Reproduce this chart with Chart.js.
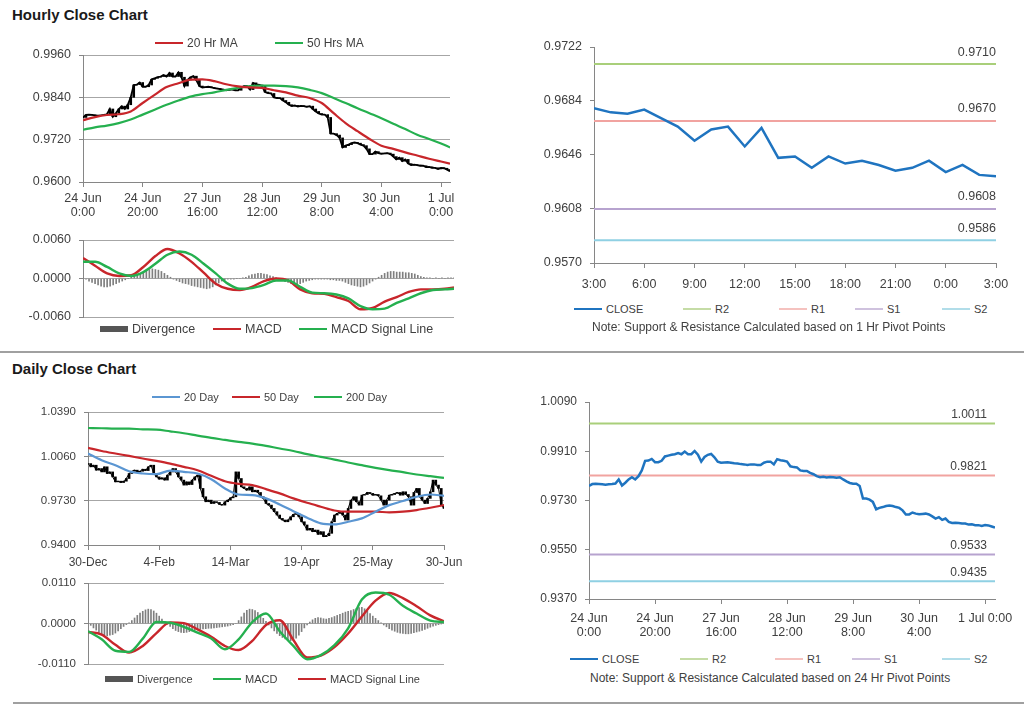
<!DOCTYPE html>
<html><head><meta charset="utf-8">
<script src="https://cdn.jsdelivr.net/npm/chart.js@4.4.1/dist/chart.umd.min.js"></script>
<style>
html,body{margin:0;padding:0;background:#fff;}
body{width:1024px;height:706px;position:relative;overflow:hidden;font-family:"Liberation Sans",Arial,sans-serif;color:#404040;}
canvas{position:absolute;}
.title{position:absolute;left:12px;font-weight:bold;font-size:15px;line-height:18px;color:#1a1a1a;}
.rule{position:absolute;height:2px;background:#a0a0a0;}
.lg{position:absolute;white-space:nowrap;line-height:14px;transform:translateY(-50%);display:flex;align-items:center;z-index:2;}
.sw{display:inline-block;width:28px;margin-right:4px;}
.note{position:absolute;white-space:nowrap;transform:translateY(-50%);font-size:12px;line-height:14px;z-index:2;}
</style></head><body>
<div class="title" style="top:6px">Hourly Close Chart</div>
<div class="title" style="top:360px">Daily Close Chart</div>
<div class="rule" style="left:0;top:351px;width:1024px"></div>
<div class="rule" style="left:13px;top:702px;width:1011px"></div>

<canvas id="cA" width="470" height="200" style="left:0;top:30px"></canvas>
<canvas id="cB" width="470" height="97" style="left:0;top:228px"></canvas>
<canvas id="cC" width="500" height="280" style="left:512px;top:20px"></canvas>
<canvas id="cD" width="475" height="190" style="left:0;top:385px"></canvas>
<canvas id="cE" width="460" height="100" style="left:0;top:572px"></canvas>
<canvas id="cF" width="500" height="270" style="left:512px;top:380px"></canvas>

<!-- legends -->
<div class="lg" style="left:155px;top:43px;font-size:12px"><span class="sw" style="height:2px;background:#c8262b"></span>20 Hr MA</div>
<div class="lg" style="left:275px;top:43px;font-size:12px"><span class="sw" style="height:2px;background:#25b04f"></span>50 Hrs MA</div>

<div class="lg" style="left:100px;top:329px;font-size:12.5px"><span class="sw" style="height:6px;background:#555"></span>Divergence</div>
<div class="lg" style="left:213px;top:329px;font-size:12.5px"><span class="sw" style="height:2px;background:#c8262b"></span>MACD</div>
<div class="lg" style="left:299px;top:329px;font-size:12.5px"><span class="sw" style="height:2px;background:#25b04f"></span>MACD Signal Line</div>

<div class="lg" style="left:574px;top:309px;font-size:11px"><span class="sw" style="height:2px;background:#1f74c0"></span>CLOSE</div>
<div class="lg" style="left:683px;top:309px;font-size:11px"><span class="sw" style="height:2px;background:#c5dca6"></span>R2</div>
<div class="lg" style="left:779px;top:309px;font-size:11px"><span class="sw" style="height:2px;background:#f5c2bf"></span>R1</div>
<div class="lg" style="left:855px;top:309px;font-size:11px"><span class="sw" style="height:2px;background:#cfc2de"></span>S1</div>
<div class="lg" style="left:942px;top:309px;font-size:11px"><span class="sw" style="height:2px;background:#b1dde9"></span>S2</div>
<div class="note" style="left:592px;top:327px">Note: Support &amp; Resistance Calculated based on 1 Hr Pivot Points</div>

<div class="lg" style="left:152px;top:397px;font-size:11px"><span class="sw" style="height:2px;background:#5b96d2"></span>20 Day</div>
<div class="lg" style="left:232px;top:397px;font-size:11px"><span class="sw" style="height:2px;background:#c8262b"></span>50 Day</div>
<div class="lg" style="left:314px;top:397px;font-size:11px"><span class="sw" style="height:2px;background:#25b04f"></span>200 Day</div>

<div class="lg" style="left:105px;top:679px;font-size:11px"><span class="sw" style="height:6px;background:#555"></span>Divergence</div>
<div class="lg" style="left:213px;top:679px;font-size:11px"><span class="sw" style="height:2px;background:#25b04f"></span>MACD</div>
<div class="lg" style="left:298px;top:679px;font-size:11px"><span class="sw" style="height:2px;background:#c8262b"></span>MACD Signal Line</div>

<div class="lg" style="left:570px;top:659px;font-size:11px"><span class="sw" style="height:2px;background:#1f74c0"></span>CLOSE</div>
<div class="lg" style="left:680px;top:659px;font-size:11px"><span class="sw" style="height:2px;background:#c5dca6"></span>R2</div>
<div class="lg" style="left:775px;top:659px;font-size:11px"><span class="sw" style="height:2px;background:#f5c2bf"></span>R1</div>
<div class="lg" style="left:852px;top:659px;font-size:11px"><span class="sw" style="height:2px;background:#cfc2de"></span>S1</div>
<div class="lg" style="left:942px;top:659px;font-size:11px"><span class="sw" style="height:2px;background:#b1dde9"></span>S2</div>
<div class="note" style="left:590px;top:678px">Note: Support &amp; Resistance Calculated based on 24 Hr Pivot Points</div>

<script>
// ---------------- DATA ----------------
// Hourly closes, 24 Jun 0:00 .. 1 Jul 3:00 (124 trading hours)
const hourlyClose = [
0.9783,0.9790,0.9791,0.9790,0.9789,0.9788,0.9789,0.9790,0.9792,0.9807,
0.9785,0.9795,0.9807,0.9815,0.9807,0.9819,0.9840,0.9875,0.9876,0.9882,
0.9870,0.9870,0.9875,0.9891,0.9894,0.9897,0.9899,0.9903,0.9899,0.9909,
0.9899,0.9899,0.9911,0.9897,0.9872,0.9889,0.9897,0.9900,0.9888,0.9872,
0.9868,0.9869,0.9870,0.9868,0.9866,0.9865,0.9863,0.9862,0.9860,0.9862,
0.9862,0.9860,0.9860,0.9868,0.9872,0.9872,0.9862,0.9881,0.9877,0.9875,
0.9872,0.9855,0.9852,0.9851,0.9840,0.9838,0.9838,0.9831,0.9826,0.9819,
0.9815,0.9817,0.9814,0.9816,0.9815,0.9813,0.9815,0.9807,0.9800,0.9794,
0.9791,0.9791,0.9783,0.9737,0.9737,0.9733,0.9725,0.9698,0.9703,0.9706,
0.9710,0.9712,0.9710,0.9706,0.9703,0.9694,0.9679,0.9679,0.9686,0.9682,
0.9680,0.9681,0.9682,0.9679,0.9672,0.9664,0.9669,0.9659,0.9664,0.9652,
0.9648,0.9649,0.9648,0.9646,0.9646,0.9642,0.9643,0.9640,0.9640,0.9637,
0.9640,0.9639,0.9635,0.9631];
const hourlyTickLabels = ['24 Jun 0:00','24 Jun 20:00','27 Jun 16:00','28 Jun 12:00','29 Jun 8:00','30 Jun 4:00','1 Jul 0:00'];
const hourlyTickEvery = 20;
// moving averages & MACD read every 4 hours
const sampleHours = [0,4,8,12,16,20,24,28,32,36,40,44,48,52,56,60,64,68,72,76,80,84,88,92,96,100,104,108,112,116,120,123];
const ma20Hr = [0.9775,0.9784,0.9790,0.9792,0.9800,0.9824,0.9847,0.9869,0.9880,0.9890,0.9891,0.9886,0.9877,0.9871,0.9868,0.9867,0.9860,0.9854,0.9845,0.9838,0.9824,0.9795,0.9767,0.9744,0.9722,0.9703,0.9694,0.9684,0.9675,0.9666,0.9658,0.9652];
const ma50Hr = [0.9748,0.9755,0.9760,0.9767,0.9777,0.9791,0.9805,0.9819,0.9831,0.9842,0.9849,0.9854,0.9861,0.9867,0.9872,0.9873,0.9873,0.9872,0.9868,0.9861,0.9852,0.9838,0.9824,0.9809,0.9795,0.9781,0.9765,0.9750,0.9734,0.9722,0.9709,0.9698];
const macdHr = [0.0032,0.0020,0.0008,0.0004,0.0005,0.0018,0.0035,0.0046,0.0039,0.0026,0.0009,-0.0008,-0.0016,-0.0018,-0.0013,-0.0004,0.0000,-0.0003,-0.0017,-0.0023,-0.0024,-0.0029,-0.0035,-0.0048,-0.0046,-0.0036,-0.0029,-0.0021,-0.0017,-0.0017,-0.0016,-0.0014];
const signalHr = [0.0026,0.0026,0.0018,0.0008,0.0004,0.0010,0.0023,0.0037,0.0042,0.0037,0.0023,0.0008,-0.0008,-0.0016,-0.0015,-0.0010,-0.0003,-0.0003,-0.0013,-0.0022,-0.0023,-0.0025,-0.0031,-0.0043,-0.0048,-0.0047,-0.0038,-0.0031,-0.0023,-0.0018,-0.0017,-0.0016];
const divergenceHr = [
0.0002,-0.0001,-0.0004,-0.0006,-0.0008,-0.0010,-0.0012,-0.0013,-0.0013,-0.0012,
-0.0010,-0.0008,-0.0006,-0.0004,-0.0002,0.0000,0.0002,0.0004,0.0006,0.0008,
0.0010,0.0012,0.0014,0.0015,0.0014,0.0013,0.0011,0.0008,0.0005,0.0002,
-0.0001,-0.0003,-0.0005,-0.0007,-0.0008,-0.0009,-0.0011,-0.0012,-0.0013,-0.0014,
-0.0015,-0.0016,-0.0015,-0.0013,-0.0010,-0.0007,-0.0004,-0.0002,-0.0001,-0.0001,
-0.0001,0.0000,0.0000,0.0001,0.0002,0.0004,0.0006,0.0007,0.0008,0.0008,
0.0007,0.0006,0.0004,0.0003,0.0001,-0.0001,-0.0003,-0.0005,-0.0006,-0.0008,
-0.0009,-0.0010,-0.0008,-0.0006,-0.0004,-0.0003,-0.0002,-0.0001,-0.0001,-0.0001,
-0.0001,-0.0001,-0.0002,-0.0002,-0.0003,-0.0003,-0.0004,-0.0006,-0.0008,-0.0010,
-0.0011,-0.0012,-0.0013,-0.0012,-0.0010,-0.0007,-0.0004,-0.0001,0.0002,0.0005,
0.0008,0.0010,0.0011,0.0011,0.0010,0.0010,0.0010,0.0009,0.0009,0.0008,
0.0007,0.0005,0.0003,0.0002,0.0001,0.0001,0.0000,0.0001,0.0000,0.0001,
0.0000,0.0001,0.0001,0.0001];
const hourlyPriceTicks = [0.9600,0.9720,0.9840,0.9960];
const hourlyMacdTicks = [-0.0060,0.0000,0.0060];

// last 24 hours, 1 Hr pivot levels
const pivotHourLabels = ['3:00','6:00','9:00','12:00','15:00','18:00','21:00','0:00','3:00'];
const pivotTickEvery = 3;
const pivotClose = [0.9679,0.9676,0.9675,0.9678,0.9672,0.9666,0.9656,0.9664,0.9666,0.9652,0.9665,0.9644,0.9645,0.9637,0.9645,0.9640,0.9642,0.9639,0.9635,0.9637,0.9642,0.9634,0.9639,0.9632,0.9631];
const levelNames = ['R2','R1','S1','S2'];
const hrLevels = [0.9710,0.9670,0.9608,0.9586];
const hrPivotTicks = [0.9570,0.9608,0.9646,0.9684,0.9722];
const dayLevels = [1.0011,0.9821,0.9533,0.9435];
const dayPivotTicks = [0.9370,0.9550,0.9730,0.9910,1.0090];

// Daily closes, 30 Dec .. 30 Jun (131 trading days)
const dailyClose = [
1.0006,0.9982,0.9994,0.9957,0.9969,0.9944,0.9982,0.9932,0.9944,0.9907,
0.9870,0.9875,0.9865,0.9875,0.9895,0.9932,0.9949,0.9957,0.9944,0.9949,
0.9964,0.9954,0.9982,0.9994,0.9932,0.9907,0.9890,0.9900,0.9883,0.9920,
0.9944,0.9969,0.9944,0.9907,0.9883,0.9846,0.9870,0.9850,0.9883,0.9907,
0.9920,0.9821,0.9759,0.9722,0.9734,0.9709,0.9722,0.9717,0.9702,0.9697,
0.9722,0.9734,0.9751,0.9759,0.9944,0.9895,0.9833,0.9821,0.9808,0.9833,
0.9796,0.9808,0.9791,0.9759,0.9747,0.9709,0.9697,0.9672,0.9648,0.9623,
0.9598,0.9586,0.9573,0.9586,0.9610,0.9628,0.9635,0.9610,0.9573,0.9549,
0.9511,0.9524,0.9499,0.9511,0.9479,0.9499,0.9462,0.9469,0.9487,0.9573,
0.9623,0.9635,0.9648,0.9623,0.9586,0.9672,0.9734,0.9759,0.9722,0.9697,
0.9771,0.9776,0.9791,0.9784,0.9771,0.9776,0.9766,0.9734,0.9697,0.9734,
0.9771,0.9776,0.9784,0.9791,0.9771,0.9796,0.9776,0.9759,0.9697,0.9791,
0.9821,0.9759,0.9734,0.9709,0.9747,0.9796,0.9883,0.9846,0.9821,0.9697,
0.9672];
const dailyTickLabels = ['30-Dec','4-Feb','14-Mar','19-Apr','25-May','30-Jun'];
const dailyTickEvery = 26;
const sampleDays = [0,5,10,15,20,25,30,35,40,45,50,55,60,65,70,75,80,85,90,95,100,105,110,115,120,125,130];
const ma20Day = [1.0081,1.0031,0.9994,0.9949,0.9932,0.9927,0.9954,0.9944,0.9932,0.9890,0.9821,0.9776,0.9771,0.9747,0.9702,0.9652,0.9603,0.9561,0.9553,0.9573,0.9598,0.9648,0.9697,0.9727,0.9759,0.9776,0.9766];
const ma50Day = [1.0123,1.0100,1.0081,1.0063,1.0044,1.0026,1.0006,0.9982,0.9957,0.9915,0.9875,0.9855,0.9846,0.9816,0.9784,0.9747,0.9714,0.9685,0.9657,0.9648,0.9648,0.9648,0.9643,0.9648,0.9660,0.9677,0.9697];
const ma200Day = [1.0271,1.0269,1.0266,1.0266,1.0261,1.0259,1.0246,1.0232,1.0214,1.0197,1.0182,1.0167,1.0155,1.0138,1.0118,1.0100,1.0076,1.0056,1.0036,1.0014,0.9994,0.9974,0.9957,0.9942,0.9925,0.9912,0.9900];
const macdDay = [-0.0021,-0.0043,-0.0074,-0.0077,-0.0041,0.0004,0.0002,-0.0009,-0.0025,-0.0041,-0.0070,-0.0043,0.0004,0.0027,-0.0021,-0.0061,-0.0097,-0.0086,-0.0059,-0.0013,0.0065,0.0084,0.0078,0.0048,0.0027,0.0008,0.0004];
const signalDay = [-0.0023,-0.0030,-0.0058,-0.0079,-0.0061,-0.0026,0.0003,0.0001,-0.0016,-0.0036,-0.0061,-0.0072,-0.0047,-0.0004,0.0009,-0.0045,-0.0092,-0.0087,-0.0064,-0.0027,0.0019,0.0062,0.0083,0.0069,0.0047,0.0022,0.0006];
const divergenceDay = [
0.0000,-0.0005,-0.0012,-0.0018,-0.0024,-0.0030,-0.0034,-0.0034,-0.0032,-0.0030,
-0.0026,-0.0020,-0.0014,-0.0008,-0.0003,0.0002,0.0008,0.0015,0.0022,0.0028,
0.0033,0.0037,0.0039,0.0038,0.0034,0.0028,0.0020,0.0012,0.0005,-0.0002,
-0.0008,-0.0014,-0.0019,-0.0022,-0.0024,-0.0025,-0.0024,-0.0022,-0.0020,-0.0018,
-0.0017,-0.0016,-0.0015,-0.0014,-0.0013,-0.0013,-0.0012,-0.0011,-0.0010,-0.0009,
-0.0008,-0.0007,-0.0005,-0.0003,0.0000,0.0008,0.0018,0.0028,0.0036,0.0039,
0.0038,0.0035,0.0030,0.0022,0.0014,0.0006,-0.0004,-0.0012,-0.0020,-0.0027,
-0.0033,-0.0038,-0.0042,-0.0045,-0.0047,-0.0045,-0.0040,-0.0032,-0.0022,-0.0012,
-0.0004,0.0004,0.0010,0.0014,0.0016,0.0015,0.0013,0.0012,0.0014,0.0016,
0.0019,0.0022,0.0025,0.0028,0.0031,0.0033,0.0035,0.0038,0.0041,0.0043,
0.0044,0.0040,0.0034,0.0027,0.0020,0.0014,0.0008,0.0002,-0.0004,-0.0009,
-0.0014,-0.0018,-0.0021,-0.0024,-0.0026,-0.0027,-0.0028,-0.0028,-0.0027,-0.0025,
-0.0023,-0.0021,-0.0019,-0.0016,-0.0013,-0.0010,-0.0007,-0.0005,-0.0003,-0.0001,
0.0000];
const dailyPriceTicks = [0.9400,0.9730,1.0060,1.0390];
const dailyMacdTicks = [-0.0110,0.0000,0.0110];

// ---------------- STYLE ----------------
const FONT = '"Liberation Sans", Arial, sans-serif';
Chart.defaults.font.family = FONT;
Chart.defaults.color = '#404040';
Chart.defaults.animation = false;
const C = {red:'#c8262b', green:'#25b04f', blue20:'#5b96d2', close:'#1f74c0',
  R2:'#a9cf7a', R1:'#f1a3a0', S1:'#b7a3cf', S2:'#8fd0e3', hist:'#7f7f7f', axis:'#868686', grid:'#a6a6a6'};
const levelColors = [C.R2, C.R1, C.S1, C.S2];

function yAxis(ticks, width, fontSize, gridOn) {
  return {
    type:'linear', position:'left', min:ticks[0], max:ticks[ticks.length-1],
    afterBuildTicks: s => { s.ticks = ticks.map(v => ({value:v})); },
    afterFit: s => { s.width = width; s.paddingTop = 0; s.paddingBottom = 0; },
    ticks:{ callback: v => (Math.abs(v) < 1e-9 ? 0 : v).toFixed(4), padding:8, color:'#404040', font:{size:fontSize} },
    grid:{ color:C.grid, lineWidth:1, drawOnChartArea:gridOn, tickLength:4, tickColor:C.axis },
    border:{ color:C.axis, width:1 }
  };
}
function xAxis(max, labels, every, height, fontSize, pad, fmt, show) {
  return {
    type:'linear', min:0, max:max, offset:false, display:show,
    afterBuildTicks: s => { s.ticks = labels.map((_, k) => ({value:k*every})); },
    afterFit: s => { s.height = height; s.paddingLeft = 0; s.paddingRight = 0; },
    ticks:{ callback:(v, i) => fmt(labels[i], i), maxRotation:0, minRotation:0, autoSkip:false,
            padding:pad, color:'#404040', font:{size:fontSize, lineHeight:1.15} },
    grid:{ drawOnChartArea:false, tickLength:5, tickColor:C.axis, offset:false },
    border:{ color:C.axis, width:1 }
  };
}
const twoLines = s => { const k = s.lastIndexOf(' '); return [s.slice(0,k), s.slice(k+1)]; };
const pts = (xs, ys) => xs.map((x, k) => ({x:x, y:ys[k]}));
const seq = ys => ys.map((y, i) => ({x:i, y:y}));
const stepBars = ys => ys.map((y, i) => ({x:i, y:[i ? ys[i-1] : y, y]}));
const line = (data, color, w, extra) => Object.assign({type:'line', data, borderColor:color, backgroundColor:color,
  borderWidth:w, pointRadius:0, fill:false, tension:0}, extra || {});
const smooth = {cubicInterpolationMode:'monotone'};

function levelLabelPlugin(levels, offY, insetX, fontSize) {
  return { id:'levelLabels', afterDatasetsDraw(chart) {
    const {ctx, chartArea, scales} = chart;
    ctx.save(); ctx.font = fontSize + 'px ' + FONT; ctx.fillStyle = '#404040';
    ctx.textAlign = 'right'; ctx.textBaseline = 'middle';
    levels.forEach(v => ctx.fillText(v.toFixed(4), chartArea.right - insetX, scales.y.getPixelForValue(v) - offY));
    ctx.restore();
  }};
}
function make(id, datasets, x, y, padding, plugins) {
  return new Chart(document.getElementById(id), {
    type:'line', data:{datasets},
    options:{ responsive:false, animation:false, events:[], layout:{padding},
      plugins:{legend:{display:false}, tooltip:{enabled:false}},
      scales:{x, y} },
    plugins: plugins || []
  });
}
const hMax = hourlyClose.length - 1, dMax = dailyClose.length - 1, pMax = pivotClose.length - 1;

// A: hourly price
make('cA', [
  line(pts(sampleHours, ma20Hr), C.red, 2.2, smooth),
  line(pts(sampleHours, ma50Hr), C.green, 2.2, smooth),
  line(seq(hourlyClose), '#000', 1.8),
  {type:'bar', data:stepBars(hourlyClose), backgroundColor:'#000', borderWidth:0, barThickness:2}
], xAxis(hMax, hourlyTickLabels, hourlyTickEvery, 48, 12.5, 4, s => twoLines(s), true),
   yAxis(hourlyPriceTicks, 83, 12.5, true), {top:25, right:20, left:0, bottom:0});

// B: hourly MACD
make('cB', [
  line(pts(sampleHours, signalHr), C.green, 2.4, smooth),
  line(pts(sampleHours, macdHr), C.red, 2.4, smooth),
  {type:'bar', data:seq(divergenceHr), backgroundColor:C.hist, borderWidth:0, barThickness:1}
], xAxis(hMax, hourlyTickLabels, hourlyTickEvery, 0, 12, 4, s => s, false),
   yAxis(hourlyMacdTicks, 83, 12.5, true), {top:12, right:16, left:0, bottom:8});

// C: hourly pivot
make('cC', [
  line(seq(pivotClose), C.close, 2.5),
  ...hrLevels.map((v, k) => line([{x:0, y:v}, {x:pMax, y:v}], levelColors[k], 2))
], xAxis(pMax, pivotHourLabels, pivotTickEvery, 37, 12.5, 9, s => s, true),
   yAxis(hrPivotTicks, 82, 12.5, false), {top:27, right:16, left:0, bottom:0},
   [levelLabelPlugin(hrLevels, 12, 0, 12.5)]);

// D: daily price
make('cD', [
  line(pts(sampleDays, ma20Day), C.blue20, 2.2, smooth),
  line(pts(sampleDays, ma50Day), C.red, 2.2, smooth),
  line(pts(sampleDays, ma200Day), C.green, 2.2, smooth),
  line(seq(dailyClose), '#000', 1),
  {type:'bar', data:stepBars(dailyClose), backgroundColor:'#000', borderWidth:0, barThickness:2}
], xAxis(dMax, dailyTickLabels, dailyTickEvery, 30, 12, 6, s => s, true),
   yAxis(dailyPriceTicks, 88, 11.5, true), {top:27, right:31, left:0, bottom:0});

// E: daily MACD
make('cE', [
  line(pts(sampleDays, macdDay), C.green, 2.4, smooth),
  line(pts(sampleDays, signalDay), C.red, 2.4, smooth),
  {type:'bar', data:seq(divergenceDay), backgroundColor:C.hist, borderWidth:0, barThickness:1}
], xAxis(dMax, dailyTickLabels, dailyTickEvery, 0, 11, 4, s => s, false),
   yAxis(dailyMacdTicks, 88, 11.5, true), {top:11, right:16, left:0, bottom:8});

// F: hourly close with 24 Hr pivot levels
make('cF', [
  line(seq(hourlyClose), C.close, 2.5),
  ...dayLevels.map((v, k) => line([{x:0, y:v}, {x:hMax, y:v}], levelColors[k], 2))
], xAxis(hMax, hourlyTickLabels, hourlyTickEvery, 51, 12.5, 7,
         (s, i) => i === hourlyTickLabels.length - 1 ? s : twoLines(s), true),
   yAxis(dayPivotTicks, 77, 12, false), {top:22, right:17, left:0, bottom:0},
   [levelLabelPlugin(dayLevels, 9, 8, 12)]);
</script>
</body></html>
